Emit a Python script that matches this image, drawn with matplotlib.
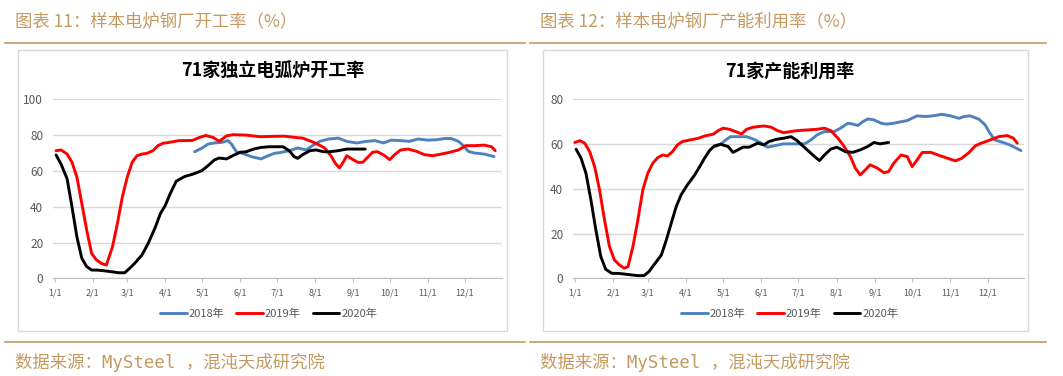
import matplotlib
matplotlib.use("Agg")
import matplotlib.pyplot as plt
from matplotlib.lines import Line2D
from matplotlib.patches import Rectangle

plt.rcParams['font.family'] = ['Noto Sans CJK SC', 'DejaVu Sans']

W, H = 1063, 376

# month ticks (day of year)
month_days = [0, 31, 59, 90, 120, 151, 181, 212, 243, 273, 304, 334]
month_labels = ["1/1", "2/1", "3/1", "4/1", "5/1", "6/1",
                "7/1", "8/1", "9/1", "10/1", "11/1", "12/1"]
years = ["2018年", "2019年", "2020年"]

# ---- chart 11: operating rate ----
l18_day = [114, 120, 125, 130, 136, 141, 144, 148, 153, 160, 168, 174, 179, 185, 191, 198, 205, 210, 216, 223,
           231, 238, 246, 254, 261, 268, 274, 282, 289, 296, 304, 311, 318, 323, 329, 333, 337, 342, 350, 358]
l18_val = [70.7, 72.8, 75.0, 75.6, 75.9, 76.9, 75.0, 70.7, 69.8, 68.0, 66.7, 68.5, 69.8, 70.4, 71.3, 72.8, 71.7, 74.1, 76.5, 77.8,
           78.3, 76.5, 75.6, 76.5, 76.9, 75.6, 77.2, 76.9, 76.5, 77.8, 77.2, 77.4, 78.1, 78.1, 76.5, 74.1, 70.9, 70.0, 69.4, 68.0]

l19_day = [1, 5, 10, 14, 18, 22, 26, 30, 34, 38, 42, 47, 51, 55, 59, 63, 67, 71, 75, 80,
           84, 88, 93, 101, 112, 118, 123, 129, 134, 140, 145, 156, 167, 179, 187, 196, 202, 209, 214, 220,
           225, 229, 232, 235, 238, 242, 247, 251, 255, 259, 263, 268, 273, 277, 282, 288, 295, 301, 308, 315,
           322, 329, 335, 342, 350, 356, 359]
l19_val = [71.3, 71.7, 69.4, 64.8, 56.5, 41.7, 26.9, 13.9, 10.2, 8.3, 7.4, 17.6, 30.6, 45.4, 56.5, 64.8, 68.5, 69.4, 69.8, 71.3,
           74.1, 75.4, 75.9, 76.9, 77.0, 78.7, 79.8, 78.7, 76.5, 79.6, 80.2, 80.0, 79.1, 79.3, 79.4, 78.7, 78.3, 76.5, 75.0, 72.8,
           68.5, 63.9, 61.7, 64.8, 68.5, 66.7, 64.8, 64.8, 67.6, 70.4, 70.7, 68.9, 66.3, 69.1, 71.7, 72.2, 70.9, 69.1, 68.5, 69.4,
           70.4, 71.7, 74.1, 74.1, 74.4, 73.5, 71.3]

l20_day = [1, 5, 10, 14, 18, 22, 26, 30, 34, 39, 46, 52, 57, 61, 65, 71, 76, 82, 86, 90,
           94, 99, 106, 113, 120, 125, 130, 134, 140, 145, 151, 156, 162, 168, 175, 182, 186, 191, 195, 198,
           202, 208, 213, 219, 224, 231, 238, 244, 253]
l20_val = [68.9, 63.9, 55.6, 39.8, 23.1, 11.1, 6.5, 4.6, 4.6, 4.3, 3.7, 3.1, 3.1, 5.6, 8.3, 13.0, 19.4, 28.7, 36.1, 40.7,
           47.2, 54.3, 56.9, 58.3, 60.2, 63.0, 66.1, 67.2, 66.7, 68.5, 70.4, 70.7, 72.2, 73.1, 73.5, 73.5, 73.5, 71.3, 68.0, 67.0,
           69.1, 71.3, 71.7, 70.7, 70.7, 71.3, 72.2, 72.2, 72.2]

# ---- chart 12: capacity utilisation ----
r18_day = [114, 118, 122, 126, 132, 139, 145, 151, 156, 161, 169, 180, 186, 191, 196, 202, 210, 215, 221, 225,
           229, 233, 237, 242, 248, 252, 258, 269, 277, 284, 291, 297, 304, 311, 315, 320, 327, 332, 336, 340,
           346, 352, 361]
r18_val = [58.9, 59.9, 61.8, 63.3, 63.3, 63.3, 62.1, 60.4, 58.6, 59.2, 60.1, 60.1, 60.1, 61.8, 64.1, 65.6, 65.6, 67.1, 69.3, 68.9,
           68.3, 70.0, 71.2, 70.8, 69.3, 68.9, 69.3, 70.5, 72.6, 72.3, 72.7, 73.3, 72.6, 71.5, 72.3, 72.6, 71.1, 68.6, 64.8, 61.8,
           60.8, 59.6, 57.1]

r19_day = [0, 4, 8, 12, 16, 20, 24, 28, 32, 36, 40, 43, 47, 51, 55, 59, 63, 67, 71, 75,
           79, 83, 87, 93, 100, 105, 112, 116, 120, 125, 130, 135, 139, 144, 153, 159, 164, 169, 175, 180,
           188, 196, 202, 207, 213, 218, 223, 227, 231, 235, 239, 245, 250, 254, 258, 264, 269, 273, 277, 281,
           288, 296, 303, 308, 313, 319, 324, 329, 336, 343, 350, 355, 358]
r19_val = [60.7, 61.5, 60.4, 56.6, 49.9, 39.5, 26.1, 14.2, 8.2, 6.0, 4.5, 5.2, 14.2, 26.1, 39.5, 46.9, 51.4, 53.9, 55.1, 54.7,
           56.6, 59.6, 61.1, 61.8, 62.6, 63.6, 64.4, 66.0, 67.1, 66.6, 65.6, 64.5, 66.6, 67.5, 68.1, 67.5, 66.0, 65.1, 65.6, 66.0,
           66.3, 66.6, 67.1, 66.0, 62.6, 58.9, 54.4, 49.2, 46.2, 48.4, 50.7, 49.2, 47.2, 47.7, 51.4, 55.1, 54.4, 49.9, 52.9, 56.2,
           56.3, 54.7, 53.4, 52.5, 53.6, 56.2, 59.2, 60.4, 61.8, 63.3, 63.8, 62.6, 60.4]

r20_day = [1, 5, 9, 13, 17, 21, 25, 30, 35, 40, 46, 51, 56, 60, 64, 70, 74, 78, 82, 86,
           91, 97, 101, 105, 109, 113, 118, 124, 128, 132, 136, 141, 148, 153, 157, 163, 169, 175, 180, 183,
           188, 194, 198, 202, 207, 212, 219, 225, 231, 237, 242, 247, 254]
r20_val = [57.7, 53.7, 46.9, 35.0, 21.6, 9.7, 4.0, 2.2, 2.2, 1.9, 1.5, 1.2, 1.2, 3.0, 6.0, 10.4, 17.1, 24.6, 32.0, 37.3,
           41.7, 46.2, 49.9, 53.7, 57.1, 59.2, 59.9, 58.9, 56.3, 57.4, 58.6, 58.6, 60.4, 59.6, 61.1, 62.1, 62.6, 63.3, 61.5, 59.9,
           57.4, 54.4, 52.6, 55.1, 57.7, 58.6, 56.6, 56.3, 57.4, 58.9, 60.7, 60.1, 60.7]

colors = ["#4F81BD", "#FF0000", "#000000"]
gold = "#C49A62"
grey_txt = "#595959"
mono_cjk = ['DejaVu Sans Mono', 'Noto Sans CJK SC']


def fx(x):
    return x / W


def fy(y):
    return 1 - y / H


fig = plt.figure(figsize=(W / 100, H / 100), dpi=100)


def panel(rect, box, header, title, title_x, series, ymax, xlim):
    # header text and rules
    x0, x1 = box
    fig.text(fx(x0 - 3), fy(21), header, color=gold, fontsize=12.5, va="center", ha="left")
    fig.add_artist(Line2D([fx(x0 - 13), fx(x1 + 18)], [fy(42.5), fy(42.5)], color=gold, lw=1.2))
    fig.add_artist(Line2D([fx(x0 - 13), fx(x1 + 18)], [fy(342), fy(342)], color=gold, lw=1.2))
    fig.text(fx(x0 - 3), fy(362), "数据来源：MySteel ，混沌天成研究院", color=gold,
             fontsize=12.5, va="center", ha="left", family=mono_cjk)
    # chart frame
    fig.add_artist(Rectangle((fx(x0), fy(331)), fx(x1 - x0), (331 - 50) / H,
                             fill=False, ec="#D9D9D9", lw=1))
    fig.text(fx(title_x), fy(71), title, fontsize=13, fontweight="bold",
             ha="center", va="center", color="#000000")

    ax = fig.add_axes(rect)
    for (d, v), c, lab in zip(series, colors, years):
        ax.plot(d, v, color=c, lw=2.1, label=lab, solid_joinstyle="round", solid_capstyle="round")
    ax.set_ylim(0, ymax)
    ax.set_xlim(*xlim)
    ax.set_yticks(range(0, ymax + 1, 20))
    ax.set_xticks(month_days)
    ax.set_xticklabels(month_labels)
    ax.grid(axis="y", color="#D9D9D9", lw=1)
    ax.set_axisbelow(True)
    for s in ["top", "right", "left"]:
        ax.spines[s].set_visible(False)
    ax.spines["bottom"].set_color("#BFBFBF")
    ax.tick_params(axis="y", length=0, labelsize=8.5, labelcolor=grey_txt, pad=7)
    ax.tick_params(axis="x", length=3, color="#BFBFBF", labelsize=6.5, labelcolor=grey_txt, pad=4)
    ax.legend(loc="upper center", bbox_to_anchor=(0.48, -0.115), ncol=3, frameon=False,
              fontsize=8, handlelength=2.4, handletextpad=0.15, columnspacing=1.1,
              labelcolor=grey_txt)
    return ax


panel([fx(53), fy(278.3), fx(449), 179 / H], (18, 507),
      "图表 11：样本电炉钢厂开工率（%）", "71家独立电弧炉开工率", 273,
      [(l18_day, l18_val), (l19_day, l19_val), (l20_day, l20_val)], 100, (-1.5, 364.5))

panel([fx(573), fy(278.3), fx(451), 179 / H], (543, 1028),
      "图表 12：样本电炉钢厂产能利用率（%）", "71家产能利用率", 790,
      [(r18_day, r18_val), (r19_day, r19_val), (r20_day, r20_val)], 80, (-1.5, 363.5))

fig.savefig("out.png", dpi=100)
